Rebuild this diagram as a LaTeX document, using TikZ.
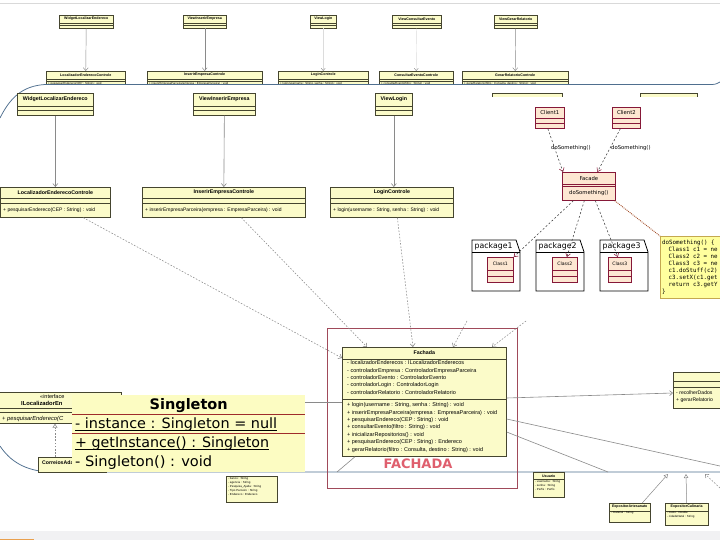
\documentclass[tikz,border=0pt]{standalone}
\usepackage{graphicx}
\usepackage{fontspec}
\setmainfont{Liberation Sans}
\newfontfamily\djv{DejaVu Sans}
\newfontfamily\djm{DejaVu Sans Mono}
\usetikzlibrary{calc,arrows.meta,shadows}
\definecolor{ufill}{HTML}{FBFBC9}
\definecolor{uline}{HTML}{45452F}
\definecolor{agray}{HTML}{8A8A8A}
\definecolor{frameblue}{HTML}{4F6F8F}
\definecolor{redrect}{HTML}{A04A5A}
\definecolor{fachred}{HTML}{DF5F6E}
\definecolor{sfill}{HTML}{FCFCC2}
\definecolor{sred}{HTML}{9E2B2B}
\definecolor{pfill}{HTML}{FDE7D2}
\definecolor{pred}{HTML}{861838}
\definecolor{nfill}{HTML}{FFFF9E}
\definecolor{nline}{HTML}{C4A850}
\definecolor{dotc}{HTML}{A4502C}
\definecolor{band}{HTML}{F1F1F3}
\definecolor{orng}{HTML}{E9A04E}
\newcommand{\ubox}[5][ubox]{\node[#1,minimum width=#4pt,minimum height=#5pt] (#2) at (#3) {};}
\newcommand{\hdiv}[3][uline]{\draw[#1,line width=0.4pt] ($(#2.north west)+(0,#3)$) -- ($(#2.north east)+(0,#3)$);}
\newcommand{\pkgshape}[3]{%
  \draw[black, line width=0.8pt] (#2,291) -- (#2,240) -- ++(44,0) -- ++(4,12) -- ++(0,39) -- cycle;
  \draw[black, line width=0.8pt] (#2,252) -- ++(48,0);
  \node[inner sep=0pt, anchor=west, font=\djv\fontsize{7.8}{9}\selectfont] (#1) at (#2+2.5,246.5) {#3};}
\begin{document}
\begin{tikzpicture}[x=1pt,y=-1pt,
  ubox/.style={draw=uline, fill=ufill, line width=0.7pt, inner sep=0pt, anchor=north west, drop shadow={shadow xshift=0.9pt, shadow yshift=-0.9pt, fill=black!35, opacity=1}},
  tbox/.style={draw=uline, fill=ufill, line width=0.45pt, inner sep=0pt, anchor=north west},
  pbox/.style={draw=pred, fill=pfill, line width=0.7pt, inner sep=0pt, anchor=north west},
  txt/.style={inner sep=0pt, text=black},
  tt/.style={txt, font=\fontsize{3.6}{4}\selectfont\bfseries},
  tl/.style={txt, font=\fontsize{2.9}{4}\selectfont},
  mt/.style={txt, font=\fontsize{5.3}{6}\selectfont\bfseries},
  ml/.style={txt, font=\fontsize{5}{6}\selectfont},
  pt/.style={txt, font=\djv\fontsize{5.3}{6}\selectfont},
  garr/.style={agray, line width=0.6pt, -{Straight Barb[length=3pt,width=5pt]}},
  darr/.style={agray, line width=0.55pt, dash pattern=on 1.6pt off 1.6pt, -{Straight Barb[length=3pt,width=5pt]}},
  frame/.style={frameblue, line width=0.75pt},
  parr/.style={black!75, line width=0.55pt, dash pattern=on 2pt off 2pt, -{Straight Barb[length=3.5pt,width=5pt,color=pred]}},
  sline/.style={txt, anchor=base west, font=\djv\fontsize{14.2}{16}\selectfont},
]
\useasboundingbox (0,0) rectangle (720,540);
\clip (0,0) rectangle (720,540);
\fill[white] (0,0) rectangle (720,540);
\draw[black!15, line width=0.5pt] (0,3.5) -- (720,3.5);

% ---------- background diagram (small) ----------
\ubox[tbox]{ta}{59,15}{54}{13}
\ubox[tbox]{tb}{183,15}{43}{13}
\ubox[tbox]{tc}{310,15}{26}{13}
\ubox[tbox]{td}{392,15}{49}{13}
\ubox[tbox]{te}{494,15}{43}{13}
\foreach \n in {ta,tb,tc,td,te}{\hdiv{\n}{8}\hdiv{\n}{10.5}}
\node[tt] (ta-t) at ($(ta.north)+(0,4)$) {WidgetLocalizarEndereco};
\node[tt] (tb-t) at ($(tb.north)+(0,4)$) {ViewInserirEmpresa};
\node[tt] (tc-t) at ($(tc.north)+(0,4)$) {ViewLogin};
\node[tt] (td-t) at ($(td.north)+(0,4)$) {ViewConsultarEvento};
\node[tt] (te-t) at ($(te.north)+(0,4)$) {ViewGerarRelatorio};
\begin{scope}
\clip (0,0) rectangle (720,85);
\ubox[tbox]{ca}{46,71}{79}{20}
\ubox[tbox]{cb}{147,71}{115}{20}
\ubox[tbox]{cc}{278,71}{90}{20}
\ubox[tbox]{cd}{379,71}{74}{20}
\ubox[tbox]{ce}{462,71}{106}{20}
\foreach \n in {ca,cb,cc,cd,ce}{\hdiv{\n}{8}\hdiv{\n}{10}}
\node[tt] (ca-t) at ($(ca.north)+(0,4)$) {LocalizadorEnderecoControle};
\node[tt] (cb-t) at ($(cb.north)+(0,4)$) {InserirEmpresaControle};
\node[tt] (cc-t) at ($(cc.north)+(0,4)$) {LoginControle};
\node[tt] (cd-t) at ($(cd.north)+(0,4)$) {ConsultarEventoControle};
\node[tt] (ce-t) at ($(ce.north)+(0,4)$) {GerarRelatorioControle};
\node[tl, anchor=west] (ca-m) at ($(ca.north west)+(2,12.5)$) {+ pesquisarEndereco(CEP : String) : void};
\node[tl, anchor=west] (cb-m) at ($(cb.north west)+(2,12.5)$) {+ inserirEmpresaParceira(empresa : EmpresaParceira) : void};
\node[tl, anchor=west] (cc-m) at ($(cc.north west)+(2,12.5)$) {+ login(username : String, senha : String) : void};
\node[tl, anchor=west] (cd-m) at ($(cd.north west)+(2,12.5)$) {+ consultarEvento(filtro : String) : void};
\node[tl, anchor=west] (ce-m) at ($(ce.north west)+(2,12.5)$) {+ gerarRelatorio(filtro : Consulta, destino : String) : void};
\end{scope}
\draw[garr, line width=0.45pt] (ta.south) -- (ca.north);
\draw[garr, line width=0.45pt] (tb.south) -- (cb.north);
\draw[agray!30, line width=0.4pt, -{Straight Barb[length=2.5pt,width=4pt,color=agray]}] (tc.south) -- (cc.north);
\draw[agray!30, line width=0.4pt, -{Straight Barb[length=2.5pt,width=4pt,color=agray]}] (td.south) -- (cd.north);
\draw[garr, line width=0.45pt] (te.south) -- (ce.north);

% ---------- frame ----------
\draw[frame] (0,118) .. controls (10,98) and (22,86) .. (45,84.5) -- (712,84.5) .. controls (716,84.5) and (718,83) .. (720,82);
\draw[frame] (0,446) .. controls (10,461) and (25,471) .. (50,472) -- (720,472);

% ---------- middle diagram ----------
\ubox{mw}{17,93}{76}{22}
\ubox{mv}{193,93}{62}{22}
\ubox{mvl}{375,93}{37}{22}
\ubox{mx1}{492,93}{70}{22}
\ubox{mx2}{640,93}{57}{22}
\foreach \n in {mw,mv,mvl}{\hdiv{\n}{13}\hdiv{\n}{17}}
\node[mt] (mw-t) at ($(mw.north)+(0,6.5)$) {WidgetLocalizarEndereco};
\node[mt] (mv-t) at ($(mv.north)+(0,6.5)$) {ViewInserirEmpresa};
\node[mt] (mvl-t) at ($(mvl.north)+(0,6.5)$) {ViewLogin};

\ubox{mloc}{0,187}{110}{30}
\ubox{minse}{142,187}{163}{30}
\ubox{mlog}{330,187}{123}{30}
\foreach \n in {mloc,minse,mlog}{\hdiv{\n}{11}\hdiv{\n}{16}}
\node[mt] (mloc-t) at ($(mloc.north)+(0,5.5)$) {LocalizadorEnderecoControle};
\node[mt] (minse-t) at ($(minse.north)+(0,5.5)$) {InserirEmpresaControle};
\node[mt] (mlog-t) at ($(mlog.north)+(0,5.5)$) {LoginControle};
\node[ml, anchor=west] (mloc-m) at ($(mloc.north west)+(3,23.5)$) {+ pesquisarEndereco(CEP : String) : void};
\node[ml, anchor=west] (minse-m) at ($(minse.north west)+(3,23.5)$) {+ inserirEmpresaParceira(empresa : EmpresaParceira) : void};
\node[ml, anchor=west] (mlog-m) at ($(mlog.north west)+(3,23.5)$) {+ login(username : String, senha : String) : void};

\draw[garr] (mw.south) -- (mloc.north);
\draw[garr] (mv.south) -- (minse.north);
\draw[garr] (mvl.south) -- (mvl.south |- mlog.north);

% ---------- packages picture ----------
\fill[white] (466,97) rectangle (720,320);
\ubox[pbox]{cl1}{535,107}{29}{21}
\ubox[pbox]{cl2}{612,107}{28}{21}
\foreach \n in {cl1,cl2}{\hdiv[pred]{\n}{11}\hdiv[pred]{\n}{16}}
\node[pt] (cl1-t) at ($(cl1.north)+(0,5.8)$) {Client1};
\node[pt] (cl2-t) at ($(cl2.north)+(0,5.8)$) {Client2};
\ubox[pbox]{fac}{562,172}{53}{28}
\hdiv[pred]{fac}{12}\hdiv[pred]{fac}{14.5}
\node[pt] (fac-t) at ($(fac.north)+(0,6.5)$) {Facade};
\node[pt] (fac-m) at ($(fac.north)+(0,21)$) {doSomething()};
\draw[parr] ($(cl1.south)+(-2,0)$) -- ($(fac.north west)+(1,0)$);
\draw[parr] ($(cl2.south)+(-6,0)$) -- ($(fac.north)+(8.5,0)$);
\node[pt, anchor=west] (lb1) at (551,148) {doSomething()};
\node[pt, anchor=west] (lb2) at (611,148) {doSomething()};

\pkgshape{pk1}{472}{package1}
\pkgshape{pk2}{536}{package2}
\pkgshape{pk3}{600}{package3}
\ubox[pbox]{k1}{487,257}{26}{25}
\ubox[pbox]{k2}{552,257}{25}{25}
\ubox[pbox]{k3}{608,257}{23}{25}
\foreach \n in {k1,k2,k3}{\hdiv[pred]{\n}{13}\hdiv[pred]{\n}{19}}
\node[pt, font=\djv\fontsize{4.6}{5}\selectfont] (k1-t) at ($(k1.north)+(0,6.5)$) {Class1};
\node[pt, font=\djv\fontsize{4.6}{5}\selectfont] (k2-t) at ($(k2.north)+(0,6.5)$) {Class2};
\node[pt, font=\djv\fontsize{4.6}{5}\selectfont] (k3-t) at ($(k3.north)+(0,6.5)$) {Class3};
\draw[parr] ($(fac.south)+(-15.5,0)$) -- (k1.north east);
\draw[parr] ($(fac.south)+(-4.5,0)$) -- ($(k2.north)+(2,0)$);
\draw[parr] ($(fac.south)+(6.5,0)$) -- ($(k3.north)+(-2,0)$);

\node[draw=nline, fill=nfill, line width=0.6pt, anchor=north west, minimum width=70pt, minimum height=62pt, inner sep=0pt] (note) at (660,236) {};
\draw[dotc, line width=0.9pt, densely dotted] ($(fac.south east)+(-1,0)$) -- (note.north west);
\node[txt, anchor=north west, align=left, font=\djm\fontsize{5.8}{7}\selectfont] (note-t) at (662,239.5)
 {doSomething() \{\\\hspace*{6.5pt}Class1 c1 = ne\\\hspace*{6.5pt}Class2 c2 = ne\\\hspace*{6.5pt}Class3 c3 = ne\\\hspace*{6.5pt}c1.doStuff(c2)\\\hspace*{6.5pt}c3.setX(c1.get\\\hspace*{6.5pt}return c3.getY\\\}};

% ---------- right and left fragments ----------
\ubox{rbox}{673,372}{60}{36}
\hdiv{rbox}{9}\hdiv{rbox}{15}
\node[ml, font=\fontsize{5.1}{6}\selectfont, anchor=west] (rbox-a) at ($(rbox.north west)+(3,21)$) {- recolherDados};
\node[ml, font=\fontsize{5.1}{6}\selectfont, anchor=west] (rbox-b) at ($(rbox.north west)+(3,28)$) {+ gerarRelatorio};

\ubox{iface}{-5,392}{126}{31}
\hdiv{iface}{16}\hdiv{iface}{20.5}
\node[ml, font=\fontsize{5.5}{6}\selectfont, anchor=west] (iface-s) at (40,397) {<<interface};
\node[mt, font=\fontsize{5.8}{6}\selectfont\bfseries, anchor=west] (iface-t) at (21,403.5) {ILocalizadorEn};
\node[ml, font=\fontsize{5.8}{6}\selectfont\itshape, anchor=west] (iface-m) at (2,418.5) {+ pesquisarEndereco(C};
\ubox{corr}{38,457}{68}{15}
\node[mt, font=\fontsize{5.2}{6}\selectfont\bfseries, anchor=west] (corr-t) at (42,463) {CorreiosAda};
\draw[agray, line width=0.55pt, dash pattern=on 1.6pt off 1.6pt, -{Triangle[open,length=4pt,width=5pt]}] ($(corr.north west)+(17,0)$) -- ($(iface.south west)+(60,0)$);

% ---------- Fachada ----------
\node[draw=redrect, line width=0.8pt, minimum width=190pt, minimum height=160pt, anchor=north west, inner sep=0pt] (frect) at (327,328) {};
\coordinate (fl) at (300,402);
\coordinate (fr1) at (720,466);
\coordinate (fr2) at (608,472);
\coordinate (fb) at (337,472);
\coordinate (u4) at (467,321);
\coordinate (u5) at (526,321);
\ubox{fach}{342,347}{164}{109}
\hdiv{fach}{12}\hdiv{fach}{52}
\node[mt] (fach-t) at ($(fach.north)+(0,5.5)$) {Fachada};
\node[ml, anchor=north west, align=left, font=\fontsize{5.5}{7.4}\selectfont] (fach-a) at ($(fach.north west)+(5,13.5)$)
 {- localizadorEnderecos : ILocalizadorEnderecos\\- controladorEmpresa : ControladorEmpresaParceira\\- controladorEvento : ControladorEvento\\- controladorLogin : ControladorLogin\\- controladorRelatorio : ControladorRelatorio};
\node[ml, anchor=north west, align=left, font=\fontsize{5.5}{7.4}\selectfont] (fach-m) at ($(fach.north west)+(5,55.5)$)
 {+ login(username : String, senha : String) : void\\+ inserirEmpresaParceira(empresa : EmpresaParceira) : void\\+ pesquisarEndereco(CEP : String) : void\\+ consultarEvento(filtro : String) : void\\+ inicializarRepositorios() : void\\+ pesquisarEndereco(CEP : String) : Endereco\\+ gerarRelatorio(filtro : Consulta, destino : String) : void};
\draw[agray, line width=0.6pt] ($(fach.north west)+(0,55)$) -- (fl);
\draw[garr] ($(fach.north east)+(0,51)$) -- ($(rbox.north west)+(0,21)$);
\draw[agray, line width=0.6pt] ($(fach.north east)+(0,72)$) -- (fr1);
\draw[agray, line width=0.6pt] ($(fach.north east)+(0,85)$) -- (fr2);
\draw[agray, line width=0.6pt] ($(fach.south west)+(13,0)$) -- (fb);
\draw[darr] ($(mloc.south)+(28,0)$) -- ($(fach.north west)+(0,11)$);
\draw[darr] ($(minse.south)+(17.5,0)$) -- ($(fach.north west)+(25,0)$);
\draw[darr] ($(mlog.south)+(5.5,0)$) -- ($(fach.north west)+(71,0)$);
\draw[darr] (u4) -- ($(fach.north west)+(111,0)$);
\draw[darr] (u5) -- ($(fach.north west)+(150,0)$);
\node[txt, text=fachred, font=\djv\bfseries\fontsize{13}{14}\selectfont] (fachlbl) at (418,463.5) {FACHADA};

% ---------- bottom small classes ----------
\ubox[tbox]{bx1}{226,476}{51}{26}
\node[tl, anchor=north west, align=left] (bx1-a) at (228,477.5) {- banco : String\\- agencia : String\\- Pesquisa\_Ajuda : String\\- Tipo Parceiro : String\\- Endereco : Endereco};
\ubox[tbox]{bx2}{533,472}{31}{25}
\hdiv{bx2}{7}
\node[tt] (bx2-t) at ($(bx2.north)+(0,4)$) {Usuario};
\node[tl, anchor=north west, align=left] (bx2-a) at (535,480) {- username : String\\- senha : String\\- Perfis : Perfis};
\ubox[tbox]{bx3}{609,503}{41}{19}
\hdiv{bx3}{8}
\node[tt] (bx3-t) at ($(bx3.north)+(0,4)$) {ExpositorArtesanato};
\node[tl, anchor=north west, align=left] (bx3-a) at (611,511) {- material : String};
\ubox[tbox]{bx4}{665,503}{43}{22}
\hdiv{bx4}{8}
\node[tt] (bx4-t) at ($(bx4.north)+(0,4)$) {ExpositorCulinaria};
\node[tl, anchor=north west, align=left] (bx4-a) at (667,511) {- custo : Double\\- cidadeNatal : String};
\coordinate (g1) at (668,474);
\coordinate (g2) at (686,474);
\coordinate (g3) at (705,474);
\coordinate (g4) at (720,488);
\draw[agray, line width=0.5pt, -{Triangle[open,length=4pt,width=4.5pt]}] ($(bx3.north)+(12.5,0)$) -- (g1);
\draw[agray, line width=0.5pt, -{Triangle[open,length=4pt,width=4.5pt]}] (bx4.north) -- (g2);
\draw[darr] (g4) -- (g3);

% ---------- Singleton overlay ----------
\node[fill=sfill, minimum width=233pt, minimum height=77pt, anchor=north west, inner sep=0pt] (sing) at (72,395) {};
\draw[sred, line width=0.9pt] ($(sing.north west)+(0,19)$) -- ($(sing.north east)+(0,19)$);
\draw[sred, line width=0.9pt] ($(sing.north west)+(0,38)$) -- ($(sing.north east)+(0,38)$);
\node[txt, anchor=base, font=\djv\bfseries\fontsize{14.5}{16}\selectfont] (sing-t) at ($(sing.north)+(0,14.5)$) {Singleton};
\node[sline] (sing-a) at ($(sing.north west)+(3,33)$) {\resizebox{202pt}{\height}{- instance : Singleton = null}};
\node[sline] (sing-b) at ($(sing.north west)+(3,52)$) {\resizebox{194pt}{\height}{+ getInstance() : Singleton}};
\node[sline] (sing-c) at ($(sing.north west)+(3,71)$) {\resizebox{137pt}{\height}{- Singleton() : void}};
\draw[black, line width=0.8pt] ($(sing-a.base west)+(0,2.6)$) -- ($(sing-a.base east)+(0,2.6)$);
\draw[black, line width=0.8pt] ($(sing-b.base west)+(0,2.6)$) -- ($(sing-b.base east)+(0,2.6)$);

% ---------- bottom band ----------
\fill[band] (0,531) rectangle (720,540);
\fill[orng] (0,538.6) rectangle (34,540);
\end{tikzpicture}
\end{document}
